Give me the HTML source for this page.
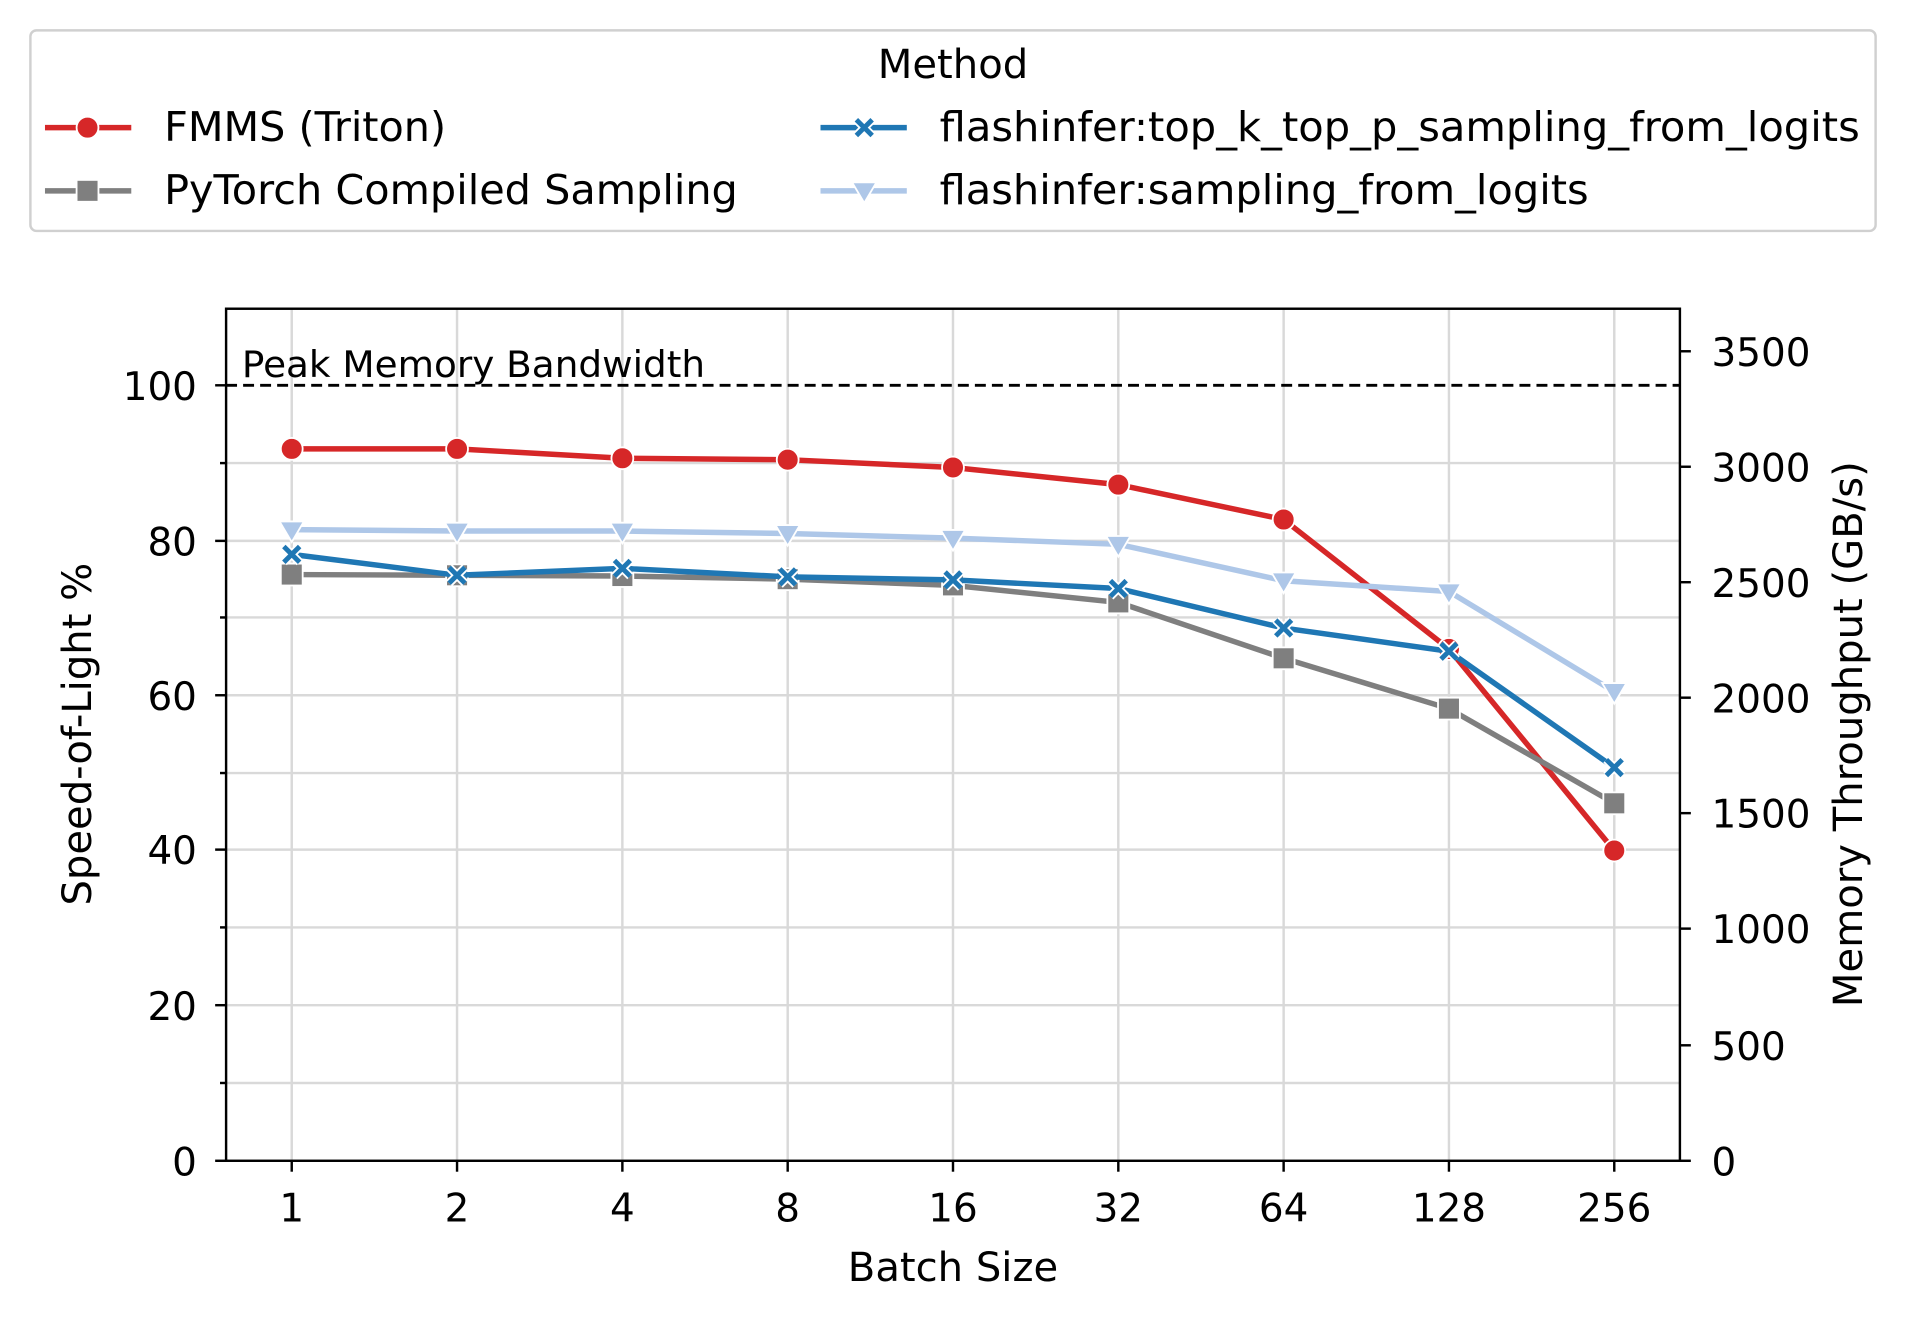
<!DOCTYPE html>
<html><head><meta charset="utf-8"><style>html,body{margin:0;padding:0;background:#fff}svg{display:block}text{font-family:"DejaVu Sans","Liberation Sans",sans-serif;fill:#000}</style></head>
<body>
<svg width="1906" height="1320" viewBox="0 0 1568 1086" preserveAspectRatio="none" xmlns="http://www.w3.org/2000/svg">
<defs>
<g id="mx"><path d="M-6.5,-6.5L6.5,6.5M-6.5,6.5L6.5,-6.5" stroke="#fff" stroke-width="7"/><path d="M-6.5,-6.5L6.5,6.5M-6.5,6.5L6.5,-6.5" stroke="#1f77b4" stroke-width="4"/></g>
</defs>
<rect x="25" y="25" width="1518" height="165" rx="5" fill="#fff" stroke="#d0d0d0" stroke-width="2"/>
<text x="784" y="64" font-size="33" text-anchor="middle">Method</text>
<line x1="37" y1="105" x2="108" y2="105" stroke="#d62728" stroke-width="4.5"/><circle cx="72" cy="105" r="9" fill="#d62728" stroke="#fff" stroke-width="1.5"/>
<text x="135" y="116" font-size="34" textLength="232" lengthAdjust="spacingAndGlyphs">FMMS (Triton)</text>
<line x1="37" y1="157" x2="108" y2="157" stroke="#7f7f7f" stroke-width="4.5"/><rect x="63" y="148" width="18" height="18" fill="#7f7f7f" stroke="#fff" stroke-width="1.5"/>
<text x="135" y="168" font-size="34" textLength="472" lengthAdjust="spacingAndGlyphs">PyTorch Compiled Sampling</text>
<line x1="675" y1="105" x2="746" y2="105" stroke="#1f77b4" stroke-width="4.5"/><use href="#mx" x="711" y="105"/>
<text x="773" y="116" font-size="34" textLength="757" lengthAdjust="spacingAndGlyphs">flashinfer:top_k_top_p_sampling_from_logits</text>
<line x1="675" y1="157" x2="746" y2="157" stroke="#aec7e8" stroke-width="4.5"/><path d="M701,150L721,150L711,167Z" fill="#aec7e8" stroke="#fff" stroke-width="1.5"/>
<text x="773" y="168" font-size="34" textLength="534" lengthAdjust="spacingAndGlyphs">flashinfer:sampling_from_logits</text>
<g stroke="#d9d9d9" stroke-width="2">
<line x1="186" x2="1382" y1="891" y2="891"/><line x1="186" x2="1382" y1="827" y2="827"/><line x1="186" x2="1382" y1="763" y2="763"/><line x1="186" x2="1382" y1="699" y2="699"/><line x1="186" x2="1382" y1="636" y2="636"/><line x1="186" x2="1382" y1="572" y2="572"/><line x1="186" x2="1382" y1="508" y2="508"/><line x1="186" x2="1382" y1="445" y2="445"/><line x1="186" x2="1382" y1="381" y2="381"/>
<line x1="240" x2="240" y1="254" y2="955"/><line x1="376" x2="376" y1="254" y2="955"/><line x1="512" x2="512" y1="254" y2="955"/><line x1="648" x2="648" y1="254" y2="955"/><line x1="784" x2="784" y1="254" y2="955"/><line x1="920" x2="920" y1="254" y2="955"/><line x1="1056" x2="1056" y1="254" y2="955"/><line x1="1192" x2="1192" y1="254" y2="955"/><line x1="1328" x2="1328" y1="254" y2="955"/>
</g>
<line x1="186" x2="1382" y1="317" y2="317" stroke="#000" stroke-width="2.4" stroke-dasharray="9,5"/>
<text x="199" y="310" font-size="30" textLength="381" lengthAdjust="spacingAndGlyphs">Peak Memory Bandwidth</text>
<polyline fill="none" stroke="#d62728" stroke-width="4.5" points="240,369.3 376,369.3 512,377 648,378.2 784,384.6 920,398.7 1056,427.4 1192,533.9 1328,699.8"/>
<g fill="#d62728" stroke="#fff" stroke-width="1.5"><circle cx="240" cy="369.3" r="9"/><circle cx="376" cy="369.3" r="9"/><circle cx="512" cy="377" r="9"/><circle cx="648" cy="378.2" r="9"/><circle cx="784" cy="384.6" r="9"/><circle cx="920" cy="398.7" r="9"/><circle cx="1056" cy="427.4" r="9"/><circle cx="1192" cy="533.9" r="9"/><circle cx="1328" cy="699.8" r="9"/></g>
<polyline fill="none" stroke="#7f7f7f" stroke-width="4.5" points="240,472.7 376,473.3 512,473.9 648,476.5 784,481.6 920,495.6 1056,541.6 1192,583 1328,660.9"/>
<g fill="#7f7f7f" stroke="#fff" stroke-width="1.5"><rect x="231" y="463.7" width="18" height="18"/><rect x="367" y="464.3" width="18" height="18"/><rect x="503" y="464.9" width="18" height="18"/><rect x="639" y="467.5" width="18" height="18"/><rect x="775" y="472.6" width="18" height="18"/><rect x="911" y="486.6" width="18" height="18"/><rect x="1047" y="532.6" width="18" height="18"/><rect x="1183" y="574" width="18" height="18"/><rect x="1319" y="651.9" width="18" height="18"/></g>
<polyline fill="none" stroke="#1f77b4" stroke-width="4.5" points="240,456.1 376,473.3 512,467.6 648,474.6 784,477.1 920,484.2 1056,516.7 1192,535.8 1328,631.5"/>
<use href="#mx" x="240" y="456.1"/><use href="#mx" x="376" y="473.3"/><use href="#mx" x="512" y="467.6"/><use href="#mx" x="648" y="474.6"/><use href="#mx" x="784" y="477.1"/><use href="#mx" x="920" y="484.2"/><use href="#mx" x="1056" y="516.7"/><use href="#mx" x="1192" y="535.8"/><use href="#mx" x="1328" y="631.5"/>
<polyline fill="none" stroke="#aec7e8" stroke-width="4.5" points="240,435.7 376,436.9 512,436.9 648,438.9 784,442.7 920,447.8 1056,477.8 1192,486.7 1328,569"/>
<g fill="#aec7e8" stroke="#fff" stroke-width="1.5">
<path d="M230,429L250,429L240,446Z"/><path d="M366,430L386,430L376,447Z"/><path d="M502,430L522,430L512,447Z"/><path d="M638,432L658,432L648,449Z"/><path d="M774,436L794,436L784,453Z"/><path d="M910,441L930,441L920,458Z"/><path d="M1046,471L1066,471L1056,488Z"/><path d="M1182,480L1202,480L1192,497Z"/><path d="M1318,562L1338,562L1328,579Z"/></g>
<rect x="186" y="254" width="1196" height="701" fill="none" stroke="#000" stroke-width="2"/>
<g stroke="#000" stroke-width="2">
<line x1="177" x2="186" y1="955" y2="955"/><line x1="177" x2="186" y1="827" y2="827"/><line x1="177" x2="186" y1="699" y2="699"/><line x1="177" x2="186" y1="572" y2="572"/><line x1="177" x2="186" y1="445" y2="445"/><line x1="177" x2="186" y1="317" y2="317"/>
<line x1="181" x2="186" y1="891" y2="891"/><line x1="181" x2="186" y1="763" y2="763"/><line x1="181" x2="186" y1="636" y2="636"/><line x1="181" x2="186" y1="508" y2="508"/><line x1="181" x2="186" y1="381" y2="381"/>
<line x1="240" x2="240" y1="955" y2="964"/><line x1="376" x2="376" y1="955" y2="964"/><line x1="512" x2="512" y1="955" y2="964"/><line x1="648" x2="648" y1="955" y2="964"/><line x1="784" x2="784" y1="955" y2="964"/><line x1="920" x2="920" y1="955" y2="964"/><line x1="1056" x2="1056" y1="955" y2="964"/><line x1="1192" x2="1192" y1="955" y2="964"/><line x1="1328" x2="1328" y1="955" y2="964"/>
<line x1="1382" x2="1391" y1="955" y2="955"/><line x1="1382" x2="1391" y1="860" y2="860"/><line x1="1382" x2="1391" y1="764" y2="764"/><line x1="1382" x2="1391" y1="669" y2="669"/><line x1="1382" x2="1391" y1="574" y2="574"/><line x1="1382" x2="1391" y1="479" y2="479"/><line x1="1382" x2="1391" y1="384" y2="384"/><line x1="1382" x2="1391" y1="289" y2="289"/>
</g>
<g font-size="32" text-anchor="end">
<text x="162" y="967">0</text><text x="162" y="839">20</text><text x="162" y="711">40</text><text x="162" y="584">60</text><text x="162" y="457">80</text><text x="162" y="329">100</text></g>
<g font-size="32">
<text x="1408" y="967">0</text><text x="1408" y="872">500</text><text x="1408" y="776">1000</text><text x="1408" y="681">1500</text><text x="1408" y="586">2000</text><text x="1408" y="491">2500</text><text x="1408" y="396">3000</text><text x="1408" y="301">3500</text></g>
<g font-size="32" text-anchor="middle">
<text x="240" y="1005">1</text><text x="376" y="1005">2</text><text x="512" y="1005">4</text><text x="648" y="1005">8</text><text x="784" y="1005">16</text><text x="920" y="1005">32</text><text x="1056" y="1005">64</text><text x="1192" y="1005">128</text><text x="1328" y="1005">256</text>
<text x="784" y="1054" font-size="33">Batch Size</text>
<text transform="translate(75,604) rotate(-90)" font-size="33">Speed-of-Light %</text>
<text transform="translate(1532,604) rotate(-90)" font-size="33">Memory Throughput (GB/s)</text>
</g>
</svg>
</body></html>
